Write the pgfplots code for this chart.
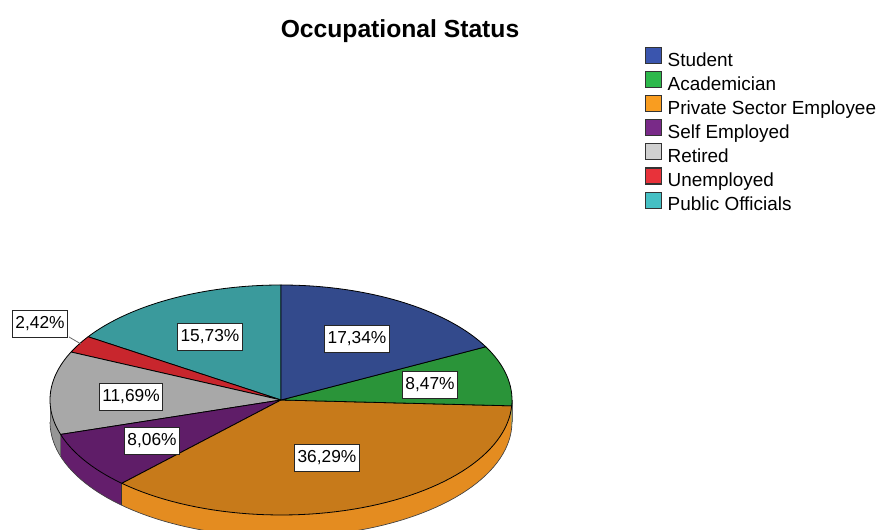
\documentclass[border=0pt]{standalone}
\usepackage{pgfplots}
\pgfplotsset{compat=1.18}
\usepgfplotslibrary{fillbetween}
\usepackage{fontspec}
\setmainfont{Liberation Sans}

% top colours
\definecolor{tStu}{RGB}{51,74,140}
\definecolor{tAca}{RGB}{42,148,57}
\definecolor{tPri}{RGB}{199,122,26}
\definecolor{tSel}{RGB}{95,29,104}
\definecolor{tRet}{RGB}{168,168,168}
\definecolor{tUne}{RGB}{200,38,45}
\definecolor{tPub}{RGB}{58,154,156}
% side colours
\definecolor{sAca}{RGB}{38,130,50}
\definecolor{sPri}{RGB}{228,140,32}
\definecolor{sSel}{RGB}{100,30,108}
\definecolor{sRet}{RGB}{150,150,150}
% legend colours
\definecolor{lStu}{RGB}{58,85,174}
\definecolor{lAca}{RGB}{45,184,75}
\definecolor{lPri}{RGB}{249,157,32}
\definecolor{lSel}{RGB}{121,42,136}
\definecolor{lRet}{RGB}{208,208,208}
\definecolor{lUne}{RGB}{232,50,58}
\definecolor{lPub}{RGB}{69,192,196}

% shares (percent)
\def\vStu{17.34}\def\vAca{8.47}\def\vPri{36.29}\def\vSel{8.06}
\def\vRet{11.69}\def\vUne{2.42}\def\vPub{15.73}
% cumulative angles, counterclockwise from 12 o'clock
\pgfmathsetmacro\aA{90}
\pgfmathsetmacro\aB{\aA+3.6*\vPub}
\pgfmathsetmacro\aC{\aB+3.6*\vUne}
\pgfmathsetmacro\aD{\aC+3.6*\vRet}
\pgfmathsetmacro\aE{\aD+3.6*\vSel}
\pgfmathsetmacro\aF{\aE+3.6*\vPri}
\pgfmathsetmacro\aG{\aF+3.6*\vAca}
\pgfmathsetmacro\aH{\aG+3.6*\vStu}
% pie geometry (pixel units)
\def\cx{281}\def\cy{130}\def\rx{231}\def\ry{115}\def\dep{22}
\pgfmathsetmacro\xD{\cx+\rx*cos(\aD)}\pgfmathsetmacro\yD{\cy+\ry*sin(\aD)}
\pgfmathsetmacro\xE{\cx+\rx*cos(\aE)}\pgfmathsetmacro\yE{\cy+\ry*sin(\aE)}
\pgfmathsetmacro\yDb{\yD-\dep}\pgfmathsetmacro\yEb{\yE-\dep}
\pgfmathsetmacro\xL{\cx-\rx}\pgfmathsetmacro\xR{\cx+\rx}\pgfmathsetmacro\yB{\cy-\dep}

\newcommand\slice[3]{%
  \addplot[forget plot, fill=#1, draw=black, line width=0.6pt, line join=round,
    domain=#2:#3, samples=60, variable=\t]
    ({\cx+\rx*cos(\t)},{\cy+\ry*sin(\t)}) -- (axis cs:\cx,\cy) -- cycle;}
\newcommand\side[4]{%
  \addplot[forget plot, draw=none, name path=T#4, domain=#2:#3, samples=40, variable=\t]
    ({\cx+\rx*cos(\t)},{\cy+\ry*sin(\t)});
  \addplot[forget plot, draw=none, name path=B#4, domain=#2:#3, samples=40, variable=\t]
    ({\cx+\rx*cos(\t)},{\cy-\dep+\ry*sin(\t)});
  \addplot[forget plot, fill=#1, draw=none] fill between[of=T#4 and B#4];}

\begin{document}
\begin{tikzpicture}
\begin{axis}[
  width=660pt, height=397.5pt, scale only axis,
  xmin=0, xmax=880, ymin=0, ymax=530,
  hide axis, clip=true,
  legend style={at={(0.7330,0.9115)}, anchor=north west, draw=none, fill=none,
    font=\fontsize{14.2}{16}\selectfont, inner sep=0pt, row sep=0.4pt,
    nodes={inner sep=0pt, text height=10.3pt, text depth=3.2pt},
    /tikz/every odd column/.append style={column sep=4pt}},
  legend cell align=left,
  legend image code/.code={\draw[#1, line width=0.8pt] (0pt,-1.5pt) rectangle (12pt,10.5pt);},
]
% sides
\side{sRet}{180}{\aD}{r}
\side{sSel}{\aD}{\aE}{s}
\side{sPri}{\aE}{\aF}{p}
\side{sAca}{\aF}{360}{a}
\addplot[forget plot, draw=black!75, line width=0.5pt, domain=180:360, samples=80, variable=\t]
  ({\cx+\rx*cos(\t)},{\cy-\dep+\ry*sin(\t)});
\draw[black!60, line width=0.5pt] (axis cs:\xL,\cy) -- (axis cs:\xL,\yB);
\draw[black!60, line width=0.5pt] (axis cs:\xR,\cy) -- (axis cs:\xR,\yB);
\draw[black!60, line width=0.4pt] (axis cs:\xD,\yD) -- (axis cs:\xD,\yDb);
\draw[black!80, line width=0.5pt] (axis cs:\xE,\yE) -- (axis cs:\xE,\yEb);
% top slices
\slice{tPub}{\aA}{\aB}
\slice{tUne}{\aB}{\aC}
\slice{tRet}{\aC}{\aD}
\slice{tSel}{\aD}{\aE}
\slice{tPri}{\aE}{\aF}
\slice{tAca}{\aF}{\aG}
\slice{tStu}{\aG}{\aH}
% legend
\addlegendimage{fill=lStu, draw=black!80}\addlegendentry{Student}
\addlegendimage{fill=lAca, draw=black!80}\addlegendentry{Academician}
\addlegendimage{fill=lPri, draw=black!80}\addlegendentry{Private Sector Employee}
\addlegendimage{fill=lSel, draw=black!80}\addlegendentry{Self Employed}
\addlegendimage{fill=lRet, draw=black!80}\addlegendentry{Retired}
\addlegendimage{fill=lUne, draw=black!80}\addlegendentry{Unemployed}
\addlegendimage{fill=lPub, draw=black!80}\addlegendentry{Public Officials}
% labels
\tikzset{lbl/.style={draw=black!85, fill=white, line width=0.75pt, inner xsep=2.2pt,
  minimum height=20pt, font=\fontsize{13}{15}\selectfont}}
\draw[black!60, line width=0.6pt] (axis cs:69,193) -- (axis cs:81,186);
\node[lbl] at (axis cs:357,191) {17,34\%};
\node[lbl] at (axis cs:430,145) {8,47\%};
\node[lbl] at (axis cs:327,72) {36,29\%};
\node[lbl] at (axis cs:152,89) {8,06\%};
\node[lbl] at (axis cs:131,133) {11,69\%};
\node[lbl] at (axis cs:210,193) {15,73\%};
\node[lbl] at (axis cs:40,206) {2,42\%};
% title
\node[font=\fontsize{18.5}{22}\selectfont\bfseries] at (axis cs:400,499) {Occupational Status};
\end{axis}
\path (current axis.south west) rectangle (current axis.north east);
\end{tikzpicture}
\end{document}
